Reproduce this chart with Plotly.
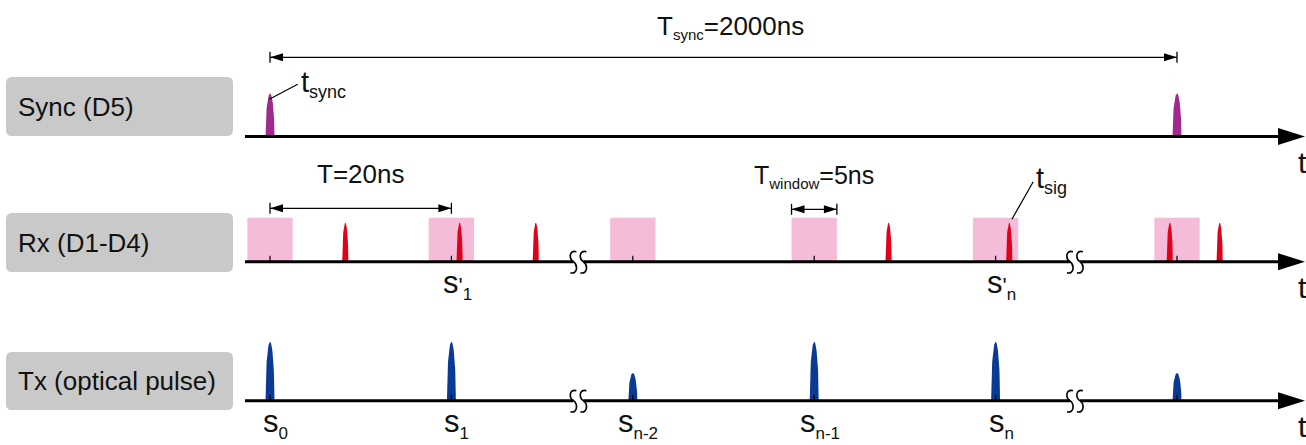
import numpy as np
import plotly.graph_objects as go

# ---------------- data ----------------
row_labels = ["Sync (D5)", "Rx (D1-D4)", "Tx (optical pulse)"]
slot_times_ns = [0, 20, 40, 60, 80, 100]            # displayed slot centres (axis broken twice)
tx_amplitude = [1.0, 1.0, 0.48, 1.0, 1.0, 0.48]
tx_subscripts = ["0", "1", "n-2", "n-1", "n", ""]
rx_window_subscripts = ["", "1", "", "", "n", ""]
rx_pulse_times_ns = [8.3, 20.9, 29.3, 68.2, 81.5, 99.2, 104.7]
rx_amplitude = [1, 1, 1, 1, 1, 1, 1]
sync_pulse_times_ns = [0, 100]
sync_amplitude = [1, 1]
window_width_ns = 5.0
period_text = "T=20ns"
window_text = "T<sub><span style='font-size:15px'>window</span></sub>=5ns"
sync_text = "T<sub><span style='font-size:15px'>sync</span></sub>=2000ns"
break_times_ns = [34.0, 88.75]

# ------------- layout constants -------------
W, H = 1306, 445
PX_PER_NS = 9.07
ORIGIN_PX = 270.0
XMIN = -ORIGIN_PX / PX_PER_NS
XMAX = (W - ORIGIN_PX) / PX_PER_NS
FONT = "Liberation Sans, Arial, sans-serif"


def px(p):
    return (p - ORIGIN_PX) / PX_PER_NS


def dx(p):
    return p / PX_PER_NS


BASE = {"sync": 136.5, "rx": 261.7, "tx": 400.7}
PULSE_H = {"sync": 44, "rx": 40, "tx": 60}
HALF_W = {"sync": dx(4.5), "rx": dx(3.1), "tx": dx(4.5)}
COL = {"sync": "#A1288E", "rx": "#E3001B", "tx": "#0A3A96"}
WIN_COL = "#F5BCD9"
BOX_COL = "#C9C9C9"
BOX_Y = {"sync": (77, 136), "rx": (213, 272), "tx": (352, 410)}
AXIS_START, AXIS_HEAD, AXIS_TIP = px(245), px(1278), px(1305)

fig = go.Figure()
shapes = []
annotations = []

# ----- label boxes -----
for (key, (y0, y1)), label in zip(BOX_Y.items(), row_labels):
    x0, x1 = px(6), px(233)
    r = 6
    rx_ = dx(r)
    path = (f"M {x0+rx_},{y0} L {x1-rx_},{y0} Q {x1},{y0} {x1},{y0+r} L {x1},{y1-r} "
            f"Q {x1},{y1} {x1-rx_},{y1} L {x0+rx_},{y1} Q {x0},{y1} {x0},{y1-r} "
            f"L {x0},{y0+r} Q {x0},{y0} {x0+rx_},{y0} Z")
    shapes.append(dict(type="path", path=path, fillcolor=BOX_COL, line=dict(width=0), layer="below"))
    annotations.append(dict(x=px(16), y=(y0 + y1) / 2, text=label, showarrow=False,
                            xanchor="left", yanchor="middle",
                            font=dict(size=26, color="#111111", family=FONT)))

# ----- detection windows -----
for t in slot_times_ns:
    shapes.append(dict(type="rect", x0=t - window_width_ns / 2, x1=t + window_width_ns / 2,
                       y0=BASE["rx"] - 44, y1=BASE["rx"], fillcolor=WIN_COL,
                       line=dict(width=0), layer="below"))


# ----- pulses -----
def pulse_xy(times, amps, row):
    xs, ys = [], []
    u = np.linspace(-1, 1, 61)
    for t, a in zip(times, amps):
        xs += list(t + HALF_W[row] * u) + [None]
        ys += list(BASE[row] + 1 - a * PULSE_H[row] * np.sqrt(1 - u ** 2)) + [None]
    return xs, ys


for row, times, amps in [("sync", sync_pulse_times_ns, sync_amplitude),
                         ("rx", rx_pulse_times_ns, rx_amplitude),
                         ("tx", slot_times_ns, tx_amplitude)]:
    xs, ys = pulse_xy(times, amps, row)
    fig.add_trace(go.Scatter(x=xs, y=ys, mode="lines", fill="toself", fillcolor=COL[row],
                             line=dict(width=0, color=COL[row]), hoverinfo="skip",
                             showlegend=False))

# ----- time axes -----
for row in ["sync", "rx", "tx"]:
    y = BASE[row]
    shapes.append(dict(type="line", x0=AXIS_START, x1=AXIS_HEAD, y0=y, y1=y,
                       line=dict(color="#000000", width=3), layer="above"))
    shapes.append(dict(type="path",
                       path=f"M {AXIS_HEAD},{y-8.5} L {AXIS_TIP},{y} L {AXIS_HEAD},{y+8.5} Z",
                       fillcolor="#000000", line=dict(width=0), layer="above"))
    annotations.append(dict(x=px(1296), y=y + 26, text="t", showarrow=False,
                            xanchor="left", yanchor="middle",
                            font=dict(size=30, color="#111111", family=FONT)))
    if row != "sync":
        for t in slot_times_ns:
            shapes.append(dict(type="line", x0=t, x1=t, y0=y, y1=y - 6,
                               line=dict(color="#000000", width=1.2), layer="above"))
        for b in break_times_ns:
            c1, c2 = b - dx(5), b + dx(5)
            shapes.append(dict(type="rect", x0=c1, x1=c2, y0=y - 3, y1=y + 3,
                               fillcolor="white", line=dict(width=0), layer="above"))
            for c in (c1, c2):
                path = (f"M {c+dx(3)},{y-10} C {c-dx(4.5)},{y-12} {c-dx(4.5)},{y-3} {c},{y} "
                        f"C {c+dx(4.5)},{y+3} {c+dx(4.5)},{y+13} {c-dx(3)},{y+11}")
                shapes.append(dict(type="path", path=path, line=dict(color="#000000", width=1.6),
                                   layer="above"))


# ----- dimension arrows -----
def dim_arrow(x0, x1, y):
    shapes.append(dict(type="line", x0=x0, x1=x1, y0=y, y1=y, line=dict(color="#000", width=1.3)))
    L = dx(13)
    for tip, base in ((x0, x0 + L), (x1, x1 - L)):
        shapes.append(dict(type="path", path=f"M {tip},{y} L {base},{y-4} L {base},{y+4} Z",
                           fillcolor="#000", line=dict(width=0)))
        shapes.append(dict(type="line", x0=tip, x1=tip, y0=y - 5.5, y1=y + 5.5,
                           line=dict(color="#000", width=1.3)))


dim_arrow(sync_pulse_times_ns[0], sync_pulse_times_ns[1], 57.3)
dim_arrow(slot_times_ns[0], slot_times_ns[1], 208.3)
dim_arrow(slot_times_ns[3] - window_width_ns / 2, slot_times_ns[3] + window_width_ns / 2, 209.3)

annotations.append(dict(x=(sync_pulse_times_ns[0] + sync_pulse_times_ns[1]) / 2 + dx(7), y=27,
                        text=sync_text, showarrow=False, xanchor="center", yanchor="middle",
                        font=dict(size=26, color="#111111", family=FONT)))
annotations.append(dict(x=(slot_times_ns[0] + slot_times_ns[1]) / 2, y=174, text=period_text,
                        showarrow=False, xanchor="center", yanchor="middle",
                        font=dict(size=26, color="#111111", family=FONT)))
annotations.append(dict(x=slot_times_ns[3] - dx(62), y=176, text=window_text, showarrow=False,
                        xanchor="left", yanchor="middle",
                        font=dict(size=25, color="#111111", family=FONT)))

# ----- leader labels t_sync, t_sig -----
t0 = sync_pulse_times_ns[0]
shapes.append(dict(type="line", x0=t0 - dx(0.7), y0=99.3, x1=t0 + dx(27.7), y1=84.3,
                   line=dict(color="#000", width=1.2)))
annotations.append(dict(x=t0 + dx(29), y=84, text="t<sub><span style='font-size:18px'>sync</span></sub>",
                        showarrow=False, xanchor="left", yanchor="middle",
                        font=dict(size=29, color="#111111", family=FONT)))
ts = rx_pulse_times_ns[4]
shapes.append(dict(type="line", x0=ts + dx(2.7), y0=219.3, x1=ts + dx(24), y1=181.7,
                   line=dict(color="#000", width=1.2)))
annotations.append(dict(x=ts + dx(25), y=180, text="t<sub><span style='font-size:18px'>sig</span></sub>",
                        showarrow=False, xanchor="left", yanchor="middle",
                        font=dict(size=29, color="#111111", family=FONT)))

# ----- s labels -----
for t, sub in zip(slot_times_ns, tx_subscripts):
    if sub:
        annotations.append(dict(x=t + dx(5.5), y=BASE["tx"] + 23,
                                text=f"s<sub><span style='font-size:17px'>{sub}</span></sub>",
                                showarrow=False, xanchor="center", yanchor="middle",
                                font=dict(size=31, color="#111111", family=FONT)))
for t, sub in zip(slot_times_ns, rx_window_subscripts):
    if sub:
        annotations.append(dict(x=t + dx(6), y=BASE["rx"] + 23,
                                text=f"s<span style='font-size:22px'>'</span><sub><span style='font-size:17px'>{sub}</span></sub>",
                                showarrow=False, xanchor="center", yanchor="middle",
                                font=dict(size=31, color="#111111", family=FONT)))

fig.update_layout(
    width=W, height=H, autosize=False,
    margin=dict(l=0, r=0, t=0, b=0, pad=0),
    paper_bgcolor="white", plot_bgcolor="white",
    xaxis=dict(range=[XMIN, XMAX], visible=False, showgrid=False, zeroline=False, fixedrange=True),
    yaxis=dict(range=[H, 0], visible=False, showgrid=False, zeroline=False, fixedrange=True),
    shapes=shapes, annotations=annotations, showlegend=False,
)
fig.write_html("out.html")
